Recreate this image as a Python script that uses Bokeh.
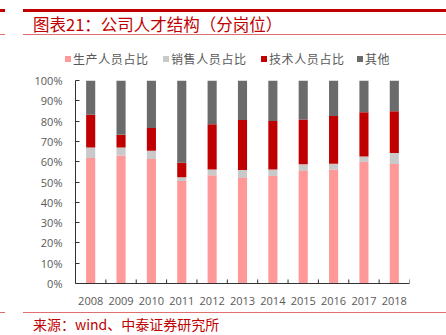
from bokeh.plotting import figure
from bokeh.layouts import column
from bokeh.models import (ColumnDataSource, FixedTicker, PrintfTickFormatter,
                          Range1d, Div)
from bokeh.embed import file_html
from bokeh.resources import INLINE

years = ["2008", "2009", "2010", "2011", "2012", "2013", "2014", "2015", "2016", "2017", "2018"]
production = [61.8, 63.0, 61.3, 50.5, 53.3, 52.0, 53.0, 55.4, 56.1, 59.8, 58.9]
sales = [5.2, 4.0, 4.1, 1.8, 2.9, 3.9, 3.2, 3.3, 2.9, 2.8, 5.4]
tech = [16.1, 6.3, 11.2, 7.2, 22.3, 24.6, 23.8, 22.1, 23.5, 21.8, 20.5]
other = [round(100 - a - b - c, 1) for a, b, c in zip(production, sales, tech)]

series_names = ["生产人员占比", "销售人员占比", "技术人员占比", "其他"]
colors = ["#FF9999", "#C9C9C9", "#C00000", "#6B6B6B"]
y_ticks = [0, 10, 20, 30, 40, 50, 60, 70, 80, 90, 100]
title_text = "图表21：公司人才结构（分岗位）"
source_text = "来源：wind、中泰证券研究所"

W = 446
RED = "#C00000"
LIGHTRED = "#E07070"
CJK = "'Noto Sans CJK SC'"


def bar(left, top, width, height, color):
    return (f'<div style="position:absolute;left:{left}px;top:{top}px;width:{width}px;'
            f'height:{height}px;background:{color}"></div>')


def txt(left, top, size, s, color=RED, spacing=0):
    return (f'<div style="position:absolute;left:{left}px;top:{top}px;font-family:{CJK};'
            f'font-size:{size}px;line-height:20px;color:{color};letter-spacing:{spacing}px;'
            f'white-space:nowrap">{s}</div>')


# ---- header (title, rules, legend) ----
HH = 72
parts = [bar(23, 9, W - 23, 2.5, RED), bar(0, 9, 5, 2.5, RED),
         bar(23, 34, W - 23, 1, LIGHTRED), bar(0, 34, 5, 1, LIGHTRED),
         txt(33, 14, 16.5, title_text)]
legend_x = [65, 163, 261, 357]
for lx, name, c in zip(legend_x, series_names, colors):
    parts.append(bar(lx, 56, 6, 6, c))
    parts.append(txt(lx + 8, 49, 12, name, color="#595959", spacing=0.6))
header_html = ('<div style="position:relative;width:446px;height:72px;overflow:hidden">'
               + "".join(parts) + '</div>')
header = Div(text=header_html, width=W, height=HH, margin=0)

# ---- main chart ----
MH = 235
xs = list(range(1, len(years) + 1))
src = ColumnDataSource(dict(x=xs, production=production, sales=sales, tech=tech, other=other))

p = figure(width=W, height=MH, output_backend="svg", toolbar_location=None,
           x_range=Range1d(0.5, len(years) + 0.5), y_range=Range1d(0, 100),
           min_border_left=75, min_border_right=37, min_border_top=8, min_border_bottom=24,
           margin=0)
p.outline_line_color = None
p.grid.grid_line_color = None

p.vbar_stack(["production", "sales", "tech", "other"], x="x", width=0.3,
             color=colors, line_color=None, source=src)

bounds = [i + 0.5 for i in xs]
p.segment(x0=bounds, x1=bounds, y0=[0] * len(bounds), y1=[2.0] * len(bounds),
          line_color="#333333", line_width=1)

tick_font = "Open Sans"
p.yaxis.ticker = FixedTicker(ticks=y_ticks)
p.yaxis.formatter = PrintfTickFormatter(format="%d%%")
p.yaxis.major_tick_in = 4
p.yaxis.major_tick_out = 0
p.yaxis.minor_tick_line_color = None
p.yaxis.axis_line_color = "#333333"
p.yaxis.major_tick_line_color = "#333333"
p.yaxis.major_label_text_font = tick_font
p.yaxis.major_label_text_font_size = "11px"
p.yaxis.major_label_text_color = "#595959"
p.yaxis.major_label_standoff = 13

p.xaxis.ticker = FixedTicker(ticks=xs)
p.xaxis.major_label_overrides = {x: y for x, y in zip(xs, years)}
p.xaxis.major_tick_line_color = None
p.xaxis.minor_tick_line_color = None
p.xaxis.axis_line_color = "#333333"
p.xaxis.major_label_text_font = tick_font
p.xaxis.major_label_text_font_size = "11px"
p.xaxis.major_label_text_color = "#595959"
p.xaxis.major_label_standoff = 7

# ---- footer ----
FH = 28
footer_html = ('<div style="position:relative;width:446px;height:28px;overflow:hidden">'
               + bar(23, 5, W - 23, 1, LIGHTRED) + bar(0, 5, 5, 1, LIGHTRED)
               + txt(33, 7, 14, source_text) + '</div>')
footer = Div(text=footer_html, width=W, height=FH, margin=0)

layout = column(header, p, footer, spacing=0, margin=0)
open("out.html", "w").write(file_html(layout, INLINE))
